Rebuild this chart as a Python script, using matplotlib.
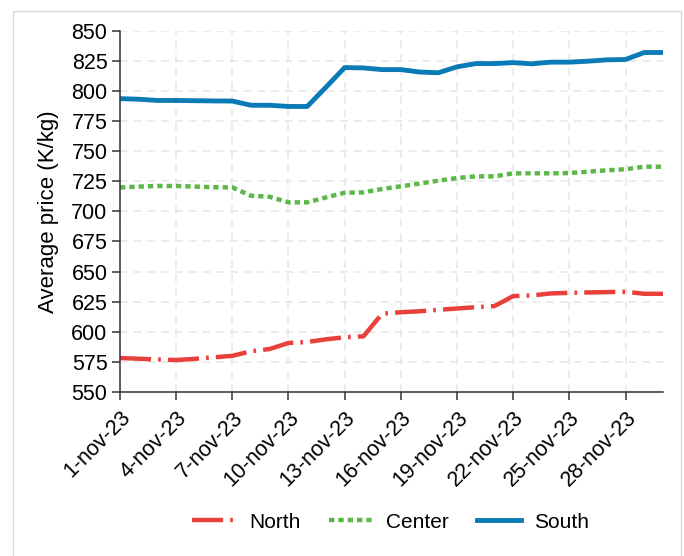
"""Average price by region, November 2023 (three dashed/dotted/solid lines)."""

import matplotlib

matplotlib.use("Agg")
import matplotlib.pyplot as plt
from matplotlib.patches import Rectangle

plt.rcParams["font.family"] = ["Liberation Sans", "DejaVu Sans"]

# --- data ------------------------------------------------------------------
days = list(range(1, 31))  # 1..30 November 2023
north = [578.2, 577.6, 577.0, 576.5, 577.5, 578.8, 580.0, 583.8, 585.7, 590.7,
         591.5, 593.7, 595.4, 596.2, 615.0, 616.2, 617.0, 618.2, 619.3, 620.4,
         621.3, 629.6, 630.1, 631.8, 632.3, 632.6, 632.9, 633.2, 631.5, 631.5]
center = [719.8, 720.5, 721.0, 721.0, 720.5, 720.0, 719.8, 712.9, 712.0, 707.4,
          707.4, 711.5, 715.4, 715.7, 718.5, 720.7, 723.0, 725.4, 727.6, 729.0,
          729.0, 731.5, 731.5, 731.5, 731.7, 732.9, 734.0, 734.9, 737.0, 737.0]
south = [793.5, 793.0, 792.0, 792.0, 791.8, 791.6, 791.5, 788.0, 788.0, 787.0,
         787.0, 803.0, 819.3, 819.0, 817.6, 817.6, 815.6, 815.0, 819.9, 822.6,
         822.6, 823.4, 822.4, 823.8, 823.8, 824.6, 825.7, 826.0, 831.8, 831.8]
tick_days = [1, 4, 7, 10, 13, 16, 19, 22, 25, 28]
tick_labels = [f"{d}-nov-23" for d in tick_days]
y_ticks = list(range(550, 851, 25))

RED, GREEN, BLUE = "#e8413c", "#5cb947", "#0a7bb6"

fig = plt.figure(figsize=(6.84, 5.56), dpi=100)
ax = fig.add_axes([0.1754, 0.295, 0.7939, 0.650])

ax.plot(days, north, color=RED, lw=3.2, dashes=(7, 1.6, 0.6, 1.6), label="North",
        solid_capstyle="butt")
ax.plot(days, center, color=GREEN, lw=3.2, dashes=(1.2, 0.9), label="Center")
ax.plot(days, south, color=BLUE, lw=3.5, label="South")

ax.set_xlim(1, 30)
ax.set_ylim(550, 850)
ax.set_xticks(tick_days)
ax.set_xticklabels(tick_labels, rotation=45, ha="right", rotation_mode="anchor")
ax.set_yticks(y_ticks)
ax.tick_params(axis="both", labelsize=15.5, length=6, width=1.1, colors="#333333",
               labelcolor="black", direction="out", pad=3)
ax.tick_params(axis="x", pad=5)
ax.set_ylabel("Average price (K/kg)", fontsize=16, labelpad=9)

ax.grid(True, color="#e6e6e6", lw=1.1, ls=(0, (5, 4)))
ax.set_axisbelow(True)
for s in ("top", "right"):
    ax.spines[s].set_visible(False)
for s in ("left", "bottom"):
    ax.spines[s].set_color("#333333")
    ax.spines[s].set_linewidth(1.1)

fig.legend(loc="center", bbox_to_anchor=(0.571, 0.061), ncol=3, frameon=False,
           fontsize=15, handlelength=2.1, columnspacing=1.35, handletextpad=0.65)

# light outer frame
fig.patches.append(Rectangle((13 / 684, -0.02), 668 / 684, 1.02 - 11 / 556,
                             transform=fig.transFigure, fill=False,
                             edgecolor="#d9d9d9", lw=1.0))

fig.savefig("out.png", dpi=100)
